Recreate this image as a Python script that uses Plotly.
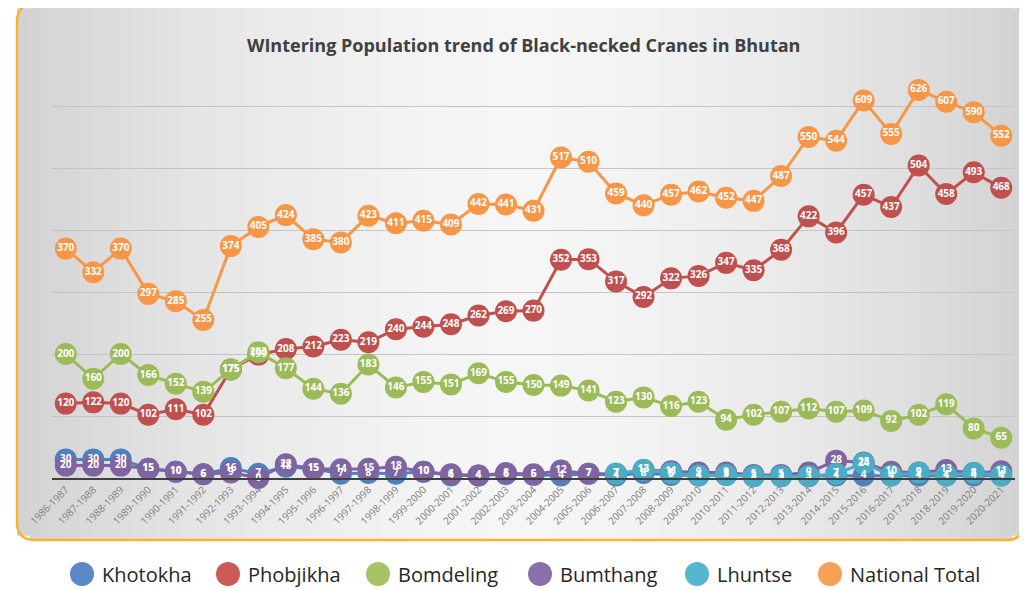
import plotly.graph_objects as go

seasons = [f"{y}-{y+1}" for y in range(1986, 2021)]

khotokha = [30, 30, 30, 15, 10, 6, 16, 7, 18, 15, 7, 8, 7, 10, 4, 4, 6, 5, 4, 7,
            4, 8, 5, 4, 5, 3, 3, 3, 4, 4, 4, 4, 4, 4, 4]
phobjikha = [120, 122, 120, 102, 111, 102, 175, 199, 208, 212, 223, 219, 240, 244, 248,
             262, 269, 270, 352, 353, 317, 292, 322, 326, 347, 335, 368, 422, 396, 457,
             437, 504, 458, 493, 468]
bomdeling = [200, 160, 200, 166, 152, 139, 175, 203, 177, 144, 136, 183, 146, 155, 151,
             169, 155, 150, 149, 141, 123, 130, 116, 123, 94, 102, 107, 112, 107, 109,
             92, 102, 119, 80, 65]
bumthang = [20, 20, 20, 15, 10, 6, 9, 0, 22, 15, 14, 15, 18, 10, 6, 4, 8, 6, 12, 7,
            7, 13, 11, 9, 9, 5, 5, 9, 28, 25, 10, 9, 13, 8, 11]
lhuntse = [None] * 20 + [7, 13, 8, 4, 5, 3, 3, 3, 7, 24, 4, 9, 4, 8, 4]
national_total = [370, 332, 370, 297, 285, 255, 374, 405, 424, 385, 380, 423, 411, 415,
                  409, 442, 441, 431, 517, 510, 459, 440, 457, 462, 452, 447, 487, 550,
                  544, 609, 555, 626, 607, 590, 552]

series_names = ["Khotokha", "Phobjikha", "Bomdeling", "Bumthang", "Lhuntse", "National Total"]
series_values = [khotokha, phobjikha, bomdeling, bumthang, lhuntse, national_total]
colors = ["#4F81BD", "#C0504D", "#9BBB59", "#8064A2", "#4BACC6", "#F79646"]
legend_colors = ["#5B88C6", "#CB5A56", "#A5C466", "#8A6FAD", "#56B6CF", "#F9A057"]

OFF = 8  # page body margin
W_FIG, H_FIG = 1027 - OFF, 590 - OFF
L, R, T, B = 52, 1015, 44, 478  # target pixel positions in the window
PW, PH = R - L, B - T


def px(x):
    return (x - L) / PW


def py(y):
    return (B - y) / PH


fig = go.Figure()

# lines and markers first
for name, vals, col in zip(series_names, series_values, colors):
    fig.add_trace(go.Scatter(
        x=seasons, y=vals, name=name,
        mode="lines+markers",
        line=dict(color=col, width=3),
        marker=dict(color=col, size=22, line=dict(width=0)),
        cliponaxis=False,
        showlegend=False,
        hoverinfo="x+y+name",
    ))

# data labels drawn above all series
for name, vals in zip(series_names, series_values):
    fig.add_trace(go.Scatter(
        x=seasons, y=vals, name=name,
        mode="text",
        text=["" if v is None else str(v) for v in vals],
        textposition="middle center",
        textfont=dict(family="Open Sans", size=10, color="white", weight="bold"),
        cliponaxis=False,
        showlegend=False,
        hoverinfo="skip",
    ))

shapes = []
bx0, by0, bx1, by1, rad = 17, 4, 1024, 540, 18
n = 80
for i in range(n):
    xa = bx0 + (bx1 - bx0) * i / n
    xb = bx0 + (bx1 - bx0) * (i + 1) / n
    xm = (xa + xb) / 2
    t = abs(xm - 520) / 505
    g = round(246 - 36 * t ** 1.6)
    inset = 0
    dx = min(xm - bx0, bx1 - xm)
    if dx < rad:
        inset = rad - (rad ** 2 - (rad - dx) ** 2) ** 0.5
    shapes.append(dict(type="rect", xref="paper", yref="paper", layer="below",
                       x0=px(xa), x1=px(xb) + 0.0008, y0=py(by1 - inset), y1=py(by0 + inset),
                       fillcolor=f"rgb({g},{g},{g})", line=dict(width=0)))


def P(x, y):
    return f"{px(x):.5f},{py(y):.5f}"


path = (f"M {P(bx0 + rad, by0)} L {P(bx1 - rad, by0)} Q {P(bx1, by0)} {P(bx1, by0 + rad)} "
        f"L {P(bx1, by1 - rad)} Q {P(bx1, by1)} {P(bx1 - rad, by1)} "
        f"L {P(bx0 + rad, by1)} Q {P(bx0, by1)} {P(bx0, by1 - rad)} "
        f"L {P(bx0, by0 + rad)} Q {P(bx0, by0)} {P(bx0 + rad, by0)} Z")
shapes.append(dict(type="path", xref="paper", yref="paper", layer="above", path=path,
                   line=dict(color="#F9B233", width=2.5)))

legend_x = [82, 228, 378, 540, 697, 830]
ly = 574
annotations = []
for name, lx, col in zip(series_names, legend_x, legend_colors):
    r = 12
    shapes.append(dict(type="circle", xref="paper", yref="paper", layer="above",
                       x0=px(lx - r), x1=px(lx + r), y0=py(ly + r), y1=py(ly - r),
                       fillcolor=col, line=dict(width=0)))
    annotations.append(dict(xref="paper", yref="paper", x=px(lx + 18), y=py(ly),
                            xanchor="left", yanchor="middle", showarrow=False, text=name,
                            font=dict(family="Open Sans", size=20, color="#262626")))

annotations.append(dict(xref="paper", yref="paper", x=px(523), y=py(45),
                        xanchor="center", yanchor="middle", showarrow=False,
                        text="WIntering Population trend of Black-necked Cranes in Bhutan",
                        font=dict(family="Open Sans", size=18, color="#404040", weight="bold")))

fig.update_layout(
    width=W_FIG, height=H_FIG,
    margin=dict(l=L - OFF, r=1027 - R, t=T - OFF, b=590 - B),
    paper_bgcolor="white",
    plot_bgcolor="rgba(0,0,0,0)",
    shapes=shapes,
    annotations=annotations,
    xaxis=dict(
        type="category", range=[-0.5, len(seasons) - 0.5], tickangle=-45, showgrid=False,
        showline=True, linecolor="#404040", linewidth=2,
        ticks="", tickfont=dict(family="Open Sans", size=10, color="#7f7f7f"),
    ),
    yaxis=dict(
        range=[0, 700], tickvals=[100, 200, 300, 400, 500, 600],
        showticklabels=False, showgrid=True, gridcolor="#c4c4c4", gridwidth=1,
        zeroline=False, showline=False,
    ),
)

fig.write_html("out.html")
